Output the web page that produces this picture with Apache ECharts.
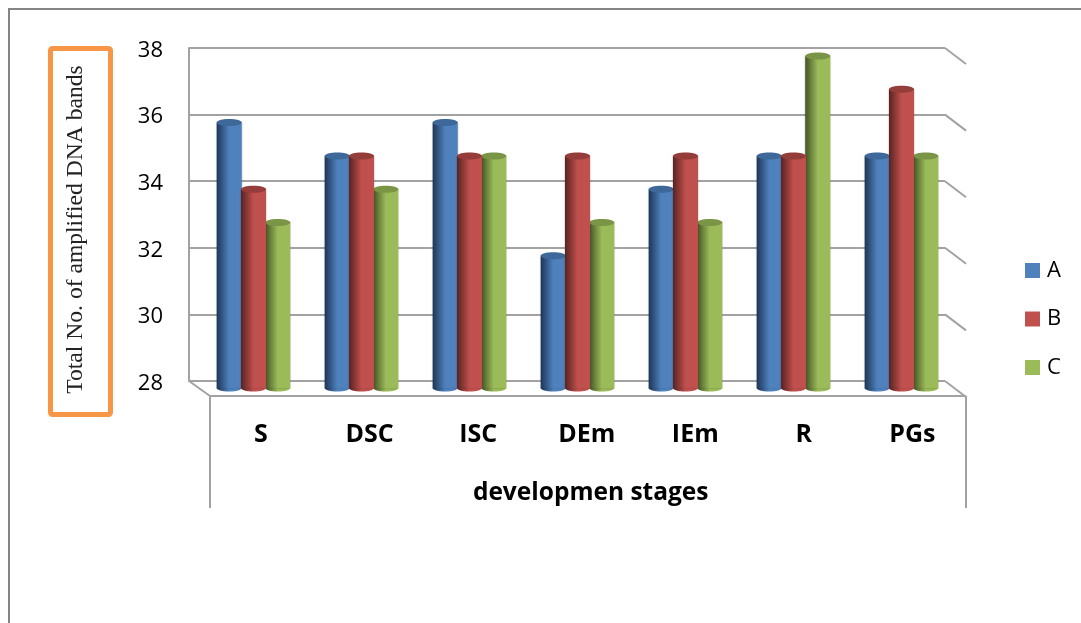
<!DOCTYPE html>
<html>
<head>
<meta charset="utf-8">
<style>html,body{margin:0;padding:0;background:#fff}#chart{width:1081px;height:623px}</style>
<script src="https://cdn.jsdelivr.net/npm/echarts@6/dist/echarts.min.js"></script>
</head>
<body>
<div id="chart"></div>
<script>
const categories = ['S', 'DSC', 'ISC', 'DEm', 'IEm', 'R', 'PGs'];
const seriesA = [36, 35, 36, 32, 34, 35, 35];
const seriesB = [34, 35, 35, 35, 35, 35, 37];
const seriesC = [33, 34, 35, 33, 33, 38, 35];
const levels = [28, 30, 32, 34, 36, 38];

const chart = echarts.init(document.getElementById('chart'));

// Depth of the pseudo-3D box: the floor runs 21px right and 15px down from the back wall.
const DEPTH_X = 21, DEPTH_Y = 15;
// Cylinders stand mid-way through that depth.
const BAR_SHIFT_X = 10.5, BAR_SHIFT_Y = 8;
const WALL = '#a2a2a2';

function horizontalFade(stops) {
  return {
    type: 'linear', x: 0, y: 0, x2: 1, y2: 0,
    colorStops: stops.map(([offset, color]) => ({ offset, color }))
  };
}

function cylinderSeries(name, values, slot, flat, dark, cap) {
  return {
    name,
    type: 'custom',
    coordinateSystem: 'cartesian2d',
    xAxisIndex: 0,
    yAxisIndex: 0,
    clip: false,
    z: slot === 0 ? 6 : slot === 1 ? 7 : 5,
    itemStyle: { color: flat },
    encode: { x: 0, y: 1 },
    data: values.map((v, i) => [i, v]),
    renderItem(params, api) {
      const band = api.size([1, 0])[0];
      const pitch = band * 0.225;
      const centre = api.coord([api.value(0), 28]);
      const top = api.coord([api.value(0), api.value(1)]);
      const cx = centre[0] + BAR_SHIFT_X + (slot - 1) * pitch;
      const rx = pitch / 2 + 0.4;
      const ry = 3.5;
      const yTop = top[1] + BAR_SHIFT_Y;
      const yBase = centre[1] + BAR_SHIFT_Y - 1;
      const body = horizontalFade([[0, dark], [0.5, flat], [0.8, flat], [1, flat]]);
      return {
        type: 'group',
        children: [
          { type: 'ellipse', shape: { cx, cy: yBase, rx, ry }, style: { fill: body } },
          {
            type: 'rect',
            shape: { x: cx - rx, y: yTop, width: rx * 2, height: yBase - yTop },
            style: { fill: body, shadowBlur: 2, shadowColor: 'rgba(0,0,0,0.25)' }
          },
          { type: 'ellipse', shape: { cx, cy: yTop, rx, ry }, style: { fill: cap } }
        ]
      };
    }
  };
}

// Diagonal returns of each grid level and the floor outline with its two drop lines.
const wallSeries = {
  type: 'custom',
  coordinateSystem: 'cartesian2d',
  xAxisIndex: 0,
  yAxisIndex: 0,
  clip: false,
  silent: true,
  z: 1,
  data: levels.map(v => [0, v]),
  encode: { x: 0, y: 1 },
  renderItem(params, api) {
    const box = params.coordSys;
    const y = api.coord([0, api.value(1)])[1];
    const xBack = box.x + box.width;
    const style = { stroke: WALL, lineWidth: 2, fill: null };
    const children = [{
      type: 'line',
      shape: { x1: xBack, y1: y, x2: xBack + DEPTH_X, y2: y + DEPTH_Y + 1 },
      style
    }];
    if (api.value(1) === 28) {
      const xl = box.x + DEPTH_X, xr = xBack + DEPTH_X, yf = y + DEPTH_Y, yEnd = 508;
      children.push(
        { type: 'line', shape: { x1: box.x, y1: y, x2: xl, y2: yf }, style },
        { type: 'line', shape: { x1: xl, y1: yf, x2: xr, y2: yf }, style },
        { type: 'line', shape: { x1: xl, y1: yf, x2: xl, y2: yEnd }, style },
        { type: 'line', shape: { x1: xr, y1: yf, x2: xr, y2: yEnd }, style }
      );
    }
    return { type: 'group', children };
  }
};

chart.setOption({
  animation: false,
  backgroundColor: '#ffffff',
  textStyle: { fontFamily: 'Open Sans' },
  grid: [
    // Back wall of the box: carries the bars and the level lines.
    { left: 189, top: 48, width: 756, height: 333 },
    // Label layer: tick and category text sit slightly off the wall.
    { left: 206.7, top: 50.5, width: 760, height: 333 }
  ],
  legend: {
    orient: 'vertical',
    left: 1020,
    top: 250.5,
    icon: 'rect',
    itemWidth: 15,
    itemHeight: 15,
    itemGap: 18.5,
    data: ['A', 'B', 'C'],
    textStyle: { fontSize: 22, lineHeight: 30, color: '#000', fontFamily: 'Open Sans', padding: [0, 0, 0, 2] }
  },
  xAxis: [
    {
      type: 'category',
      gridIndex: 0,
      data: categories,
      axisLine: { show: false },
      axisTick: { show: false },
      axisLabel: { show: false }
    },
    {
      type: 'category',
      gridIndex: 1,
      data: categories,
      axisLine: { show: false },
      axisTick: { show: false },
      axisLabel: { margin: 38.5, fontSize: 25, fontWeight: 'bold', color: '#000', fontFamily: 'Open Sans' },
      name: 'developmen stages',
      nameLocation: 'middle',
      nameGap: 97.5,
      nameTextStyle: { fontSize: 24.5, fontWeight: 'bold', color: '#000', fontFamily: 'Open Sans', padding: [0, 0, 0, 8] }
    }
  ],
  yAxis: [
    {
      type: 'value',
      gridIndex: 0,
      min: 28,
      max: 38,
      interval: 2,
      axisLine: { show: true, lineStyle: { color: WALL, width: 2 } },
      axisTick: { show: false },
      axisLabel: { show: false },
      splitLine: { show: true, lineStyle: { color: WALL, width: 2 } },
      name: 'Total No. of amplified DNA bands',
      nameLocation: 'middle',
      nameRotate: 90,
      nameGap: 101,
      nameTextStyle: { fontSize: 23.6, color: '#222', fontFamily: 'Liberation Serif', padding: [0, 30, 0, 0] }
    },
    {
      type: 'value',
      gridIndex: 1,
      min: 28,
      max: 38,
      interval: 2,
      axisLine: { show: false },
      axisTick: { show: false },
      splitLine: { show: false },
      axisLabel: { margin: 43.7, fontSize: 22, color: '#000', fontFamily: 'Open Sans' }
    }
  ],
  graphic: [
    { type: 'polyline', silent: true, shape: { points: [[9, 623], [9, 9], [1081, 9]] }, style: { stroke: '#858585', lineWidth: 2, fill: null } },
    { type: 'rect', silent: true, shape: { x: 50.5, y: 48.5, width: 60, height: 366, r: 2 }, style: { stroke: '#f79646', lineWidth: 5, fill: null } }
  ],
  series: [
    wallSeries,
    cylinderSeries('A', seriesA, 0, '#4f81bd', '#1d3556', '#3d6899'),
    cylinderSeries('B', seriesB, 1, '#c0504d', '#572321', '#943d3b'),
    cylinderSeries('C', seriesC, 2, '#9bbb59', '#445426', '#7a9545')
  ]
});
</script>
</body>
</html>
